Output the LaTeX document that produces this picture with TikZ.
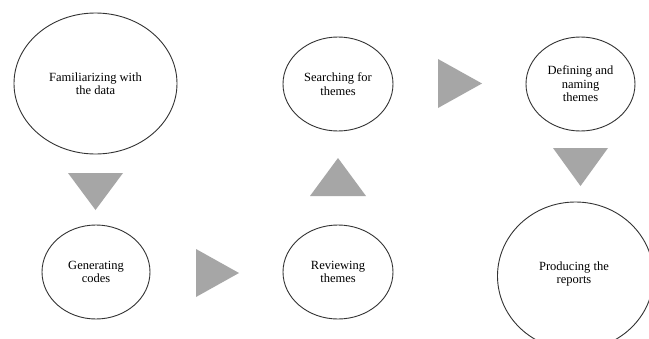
\documentclass[tikz,border=0pt]{standalone}
\usepackage{fontspec}
\setmainfont{Liberation Serif}
\usetikzlibrary{shapes.geometric}
\definecolor{trigray}{HTML}{A6A6A6}
\definecolor{edgegray}{HTML}{333333}
\tikzset{
  stage/.style={draw=edgegray, line width=0.9pt, ellipse, inner sep=0pt, align=center,
    font=\fontsize{12.5}{13.5}\selectfont},
  tri/.style={fill=trigray, draw=none}
}
\begin{document}
\begin{tikzpicture}[x=1pt,y=-1pt]
\clip (0,0) rectangle (649,338);
\useasboundingbox (0,0) rectangle (649,338);
\fill[white] (0,0) rectangle (649,338);
% stages
\node[stage, minimum width=163pt, minimum height=141pt] (fam) at (95.5,83.5) {Familiarizing with\\the data};
\node[stage, minimum width=108pt, minimum height=94pt] (gen) at (96,272) {Generating\\codes};
\node[stage, minimum width=110pt, minimum height=94pt] (rev) at (338,272) {Reviewing\\themes};
\node[stage, minimum width=110pt, minimum height=94pt] (sea) at (338,84) {Searching for\\themes};
\node[stage, minimum width=109pt, minimum height=94pt] (def) at (580.5,84) {Defining and\\naming\\themes};
\node[stage, minimum width=156pt, minimum height=148pt] (pro) at (575.5,276) {};
\node[font=\fontsize{12.5}{13.5}\selectfont, align=center] (protext) at (574,274) {Producing the\\reports};
% triangles
\fill[tri] (68,173) -- (123,173) -- (95.5,210) -- cycle;
\fill[tri] (196,249) -- (239,273) -- (196,297) -- cycle;
\fill[tri] (310,196) -- (366,196) -- (338,158) -- cycle;
\fill[tri] (438,59) -- (482,83.5) -- (438,108) -- cycle;
\fill[tri] (553,148) -- (608,148) -- (580.5,186) -- cycle;
\end{tikzpicture}
\end{document}
